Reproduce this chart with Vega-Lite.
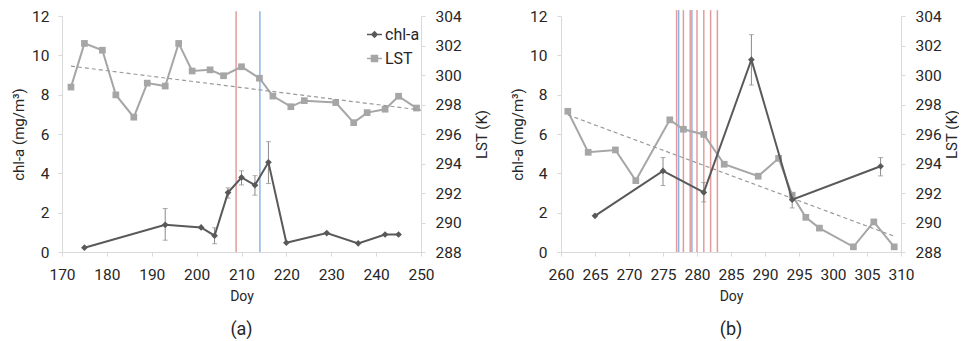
{
  "$schema": "https://vega.github.io/schema/vega-lite/v6.json",
  "background": "white",
  "padding": {"left": 11, "top": 9, "right": 0, "bottom": 0},
  "spacing": 140,
  "bounds": "flush",
  "config": {
    "view": {"stroke": null},
    "font": "Roboto, Liberation Sans, DejaVu Sans, sans-serif",
    "axis": {"domainColor": "#d9d9d9", "tickColor": "#d9d9d9", "tickSize": 4, "grid": false, "labelOverlap": false, "labelFlush": false, "tickCount": 20, "format": "d", "labelFont": "Roboto, Liberation Sans, DejaVu Sans, sans-serif", "labelFontSize": 15.5, "labelColor": "#262626", "titleFont": "Roboto, Liberation Sans, DejaVu Sans, sans-serif", "titleFontSize": 15, "titleFontWeight": "normal", "titleColor": "#262626"},
    "legend": {"labelFont": "Roboto, Liberation Sans, DejaVu Sans, sans-serif"},
    "title": {"font": "Roboto, Liberation Sans, DejaVu Sans, sans-serif", "fontSize": 18, "fontWeight": "normal", "color": "#262626"}
  },
  "resolve": {
    "scale": {"fill": "independent", "stroke": "independent", "shape": "independent", "color": "independent"},
    "legend": {"fill": "independent", "stroke": "independent", "shape": "independent", "color": "independent"}
  },
  "datasets": {
    "a_chl": [
      {"doy": 175, "chl": 0.22}, {"doy": 193, "chl": 1.38}, {"doy": 201, "chl": 1.25}, {"doy": 204, "chl": 0.83},
      {"doy": 207, "chl": 3.02}, {"doy": 210, "chl": 3.79}, {"doy": 213, "chl": 3.40}, {"doy": 216, "chl": 4.56},
      {"doy": 220, "chl": 0.47}, {"doy": 229, "chl": 0.96}, {"doy": 236, "chl": 0.44}, {"doy": 242, "chl": 0.89},
      {"doy": 245, "chl": 0.89}
    ],
    "a_err": [
      {"doy": 193, "lo": 0.60, "hi": 2.21}, {"doy": 204, "lo": 0.42, "hi": 1.23}, {"doy": 207, "lo": 2.74, "hi": 3.26},
      {"doy": 210, "lo": 3.41, "hi": 4.13}, {"doy": 213, "lo": 2.89, "hi": 3.88}, {"doy": 216, "lo": 3.48, "hi": 5.61}
    ],
    "a_lst": [
      {"doy": 172, "lst": 299.18}, {"doy": 175, "lst": 302.14}, {"doy": 179, "lst": 301.68}, {"doy": 182, "lst": 298.65},
      {"doy": 186, "lst": 297.14}, {"doy": 189, "lst": 299.45}, {"doy": 193, "lst": 299.25}, {"doy": 196, "lst": 302.14},
      {"doy": 199, "lst": 300.27}, {"doy": 203, "lst": 300.35}, {"doy": 206, "lst": 299.95}, {"doy": 210, "lst": 300.56},
      {"doy": 214, "lst": 299.78}, {"doy": 217, "lst": 298.57}, {"doy": 221, "lst": 297.85}, {"doy": 224, "lst": 298.26},
      {"doy": 231, "lst": 298.13}, {"doy": 235, "lst": 296.77}, {"doy": 238, "lst": 297.45}, {"doy": 242, "lst": 297.68},
      {"doy": 245, "lst": 298.56}, {"doy": 249, "lst": 297.76}
    ],
    "a_trend": [{"doy": 172, "lst": 300.6}, {"doy": 250, "lst": 297.62}],
    "a_events": [{"doy": 208.8, "type": "A"}, {"doy": 214.1, "type": "B"}],
    "b_chl": [
      {"doy": 265, "chl": 1.84}, {"doy": 275, "chl": 4.12}, {"doy": 281, "chl": 3.03},
      {"doy": 288, "chl": 9.78}, {"doy": 294, "chl": 2.66}, {"doy": 307, "chl": 4.36}
    ],
    "b_err": [
      {"doy": 275, "lo": 3.38, "hi": 4.80}, {"doy": 281, "lo": 2.55, "hi": 3.53}, {"doy": 288, "lo": 8.49, "hi": 11.05},
      {"doy": 294, "lo": 2.24, "hi": 2.95}, {"doy": 307, "lo": 3.87, "hi": 4.80}
    ],
    "b_lst": [
      {"doy": 261, "lst": 297.54}, {"doy": 264, "lst": 294.76}, {"doy": 268, "lst": 294.92}, {"doy": 271, "lst": 292.84},
      {"doy": 276, "lst": 296.96}, {"doy": 278, "lst": 296.32}, {"doy": 281, "lst": 295.97}, {"doy": 284, "lst": 293.95},
      {"doy": 289, "lst": 293.14}, {"doy": 292, "lst": 294.35}, {"doy": 294, "lst": 291.85}, {"doy": 296, "lst": 290.35},
      {"doy": 298, "lst": 289.62}, {"doy": 303, "lst": 288.35}, {"doy": 306, "lst": 290.04}, {"doy": 309, "lst": 288.35}
    ],
    "b_trend": [{"doy": 261, "lst": 297.3}, {"doy": 309, "lst": 289.07}],
    "b_events": [
      {"doy": 277, "type": "A"}, {"doy": 277.3, "type": "B"}, {"doy": 278, "type": "A"}, {"doy": 279, "type": "A"},
      {"doy": 279.25, "type": "B"}, {"doy": 280, "type": "A"}, {"doy": 281, "type": "A"}, {"doy": 282, "type": "A"},
      {"doy": 283, "type": "A"}
    ],
    "legend": [{"series": "chl-a"}, {"series": "LST"}]
  },
  "hconcat": [
    {
      "width": 359,
      "height": 236,
      "title": {"text": "(a)", "orient": "bottom", "frame": "group", "offset": 17, "fontSize": 18, "fontWeight": "normal", "color": "#262626"},
      "resolve": {"scale": {"y": "independent"}},
      "layer": [
        {
          "layer": [
            {
              "data": {"name": "a_events"},
              "mark": {"type": "rule", "strokeWidth": 1.5},
              "encoding": {
                "x": {"field": "doy", "type": "quantitative", "title": "Doy", "scale": {"domain": [170, 250], "nice": false}, "axis": {"values": [170, 180, 190, 200, 210, 220, 230, 240, 250], "format": "d", "tickCount": 20, "labelOverlap": false, "labelFlush": false, "labelPadding": 11, "titlePadding": 7, "labelFontSize": 15.5, "titleFontSize": 14, "titleFontWeight": "normal"}},
                "y": {"datum": 304.33, "type": "quantitative", "title": "LST (K)", "scale": {"domain": [288, 304], "nice": false}, "axis": {"orient": "right", "values": [288, 290, 292, 294, 296, 298, 300, 302, 304], "format": "d", "tickCount": 20, "labelOverlap": false, "labelFlush": false, "labelPadding": 10, "titleX": 60, "titleAngle": 270, "titleBaseline": "middle", "labelFontSize": 15.5, "titleFontSize": 15, "titleFontWeight": "normal"}},
                "y2": {"datum": 288},
                "color": {"field": "type", "type": "nominal", "scale": {"domain": ["A", "B"], "range": ["#e39c9c", "#8fb4e3"]}, "legend": null}
              }
            },
            {
              "data": {"name": "a_lst"},
              "mark": {"type": "line", "color": "#a6a6a6", "strokeWidth": 2},
              "encoding": {
                "x": {"field": "doy", "type": "quantitative", "title": "Doy"},
                "y": {"field": "lst", "type": "quantitative", "title": "LST (K)"}
              }
            },
            {
              "data": {"name": "a_lst"},
              "mark": {"type": "point", "shape": "square", "size": 45, "filled": true, "opacity": 1, "color": "#a6a6a6"},
              "encoding": {
                "x": {"field": "doy", "type": "quantitative", "title": "Doy"},
                "y": {"field": "lst", "type": "quantitative", "title": "LST (K)"}
              }
            },
            {
              "data": {"name": "a_trend"},
              "mark": {"type": "line", "color": "#9a9a9a", "strokeWidth": 1.2, "strokeDash": [4, 3]},
              "encoding": {
                "x": {"field": "doy", "type": "quantitative", "title": "Doy"},
                "y": {"field": "lst", "type": "quantitative", "title": "LST (K)"}
              }
            }
          ]
        },
        {
          "layer": [
            {
              "data": {"name": "a_err"},
              "mark": {"type": "errorbar", "ticks": {"size": 5}, "color": "#8a8a8a", "thickness": 1},
              "encoding": {
                "x": {"field": "doy", "type": "quantitative", "title": "Doy"},
                "y": {"field": "lo", "type": "quantitative", "title": "chl-a (mg/m³)", "scale": {"domain": [0, 12], "nice": false}, "axis": {"orient": "left", "values": [0, 2, 4, 6, 8, 10, 12], "format": "d", "tickCount": 20, "labelOverlap": false, "labelFlush": false, "labelPadding": 9, "titleX": -44, "titleBaseline": "middle", "labelFontSize": 15.5, "titleFontSize": 15, "titleFontWeight": "normal"}},
                "y2": {"field": "hi"}
              }
            },
            {
              "data": {"name": "a_chl"},
              "mark": {"type": "line", "color": "#595959", "strokeWidth": 2},
              "encoding": {
                "x": {"field": "doy", "type": "quantitative", "title": "Doy"},
                "y": {"field": "chl", "type": "quantitative", "title": "chl-a (mg/m³)"}
              }
            },
            {
              "data": {"name": "a_chl"},
              "mark": {"type": "point", "shape": "diamond", "size": 45, "filled": true, "opacity": 1, "color": "#595959"},
              "encoding": {
                "x": {"field": "doy", "type": "quantitative", "title": "Doy"},
                "y": {"field": "chl", "type": "quantitative", "title": "chl-a (mg/m³)"}
              }
            },
            {
              "data": {"name": "legend"},
              "mark": {"type": "point", "opacity": 0, "filled": true},
              "encoding": {
                "fill": {"field": "series", "type": "nominal", "scale": {"domain": ["chl-a", "LST"], "range": ["#595959", "#a6a6a6"]}, "legend": {"orient": "none", "legendX": 304, "legendY": 10, "title": null, "padding": 0, "labelFontSize": 16, "labelColor": "#262626", "labelOffset": 2, "symbolSize": 225, "symbolStrokeWidth": 1.5, "symbolOpacity": 1, "rowPadding": 7}},
                "stroke": {"field": "series", "type": "nominal", "scale": {"domain": ["chl-a", "LST"], "range": ["#595959", "#a6a6a6"]}, "legend": {"orient": "none", "legendX": 304, "legendY": 10, "title": null, "padding": 0, "labelFontSize": 16, "labelColor": "#262626", "labelOffset": 2, "symbolSize": 225, "symbolStrokeWidth": 1.5, "symbolOpacity": 1, "rowPadding": 7}},
                "shape": {"field": "series", "type": "nominal", "scale": {"domain": ["chl-a", "LST"], "range": ["M-1,0H1M0,-0.35L0.35,0L0,0.35L-0.35,0Z", "M-1,0H1M-0.4,-0.4H0.4V0.4H-0.4Z"]}, "legend": {"orient": "none", "legendX": 304, "legendY": 10, "title": null, "padding": 0, "labelFontSize": 16, "labelColor": "#262626", "labelOffset": 2, "symbolSize": 225, "symbolStrokeWidth": 1.5, "symbolOpacity": 1, "rowPadding": 7}}
              }
            }
          ]
        }
      ]
    },
    {
      "width": 340,
      "height": 236,
      "title": {"text": "(b)", "orient": "bottom", "frame": "group", "offset": 17, "fontSize": 18, "fontWeight": "normal", "color": "#262626"},
      "resolve": {"scale": {"y": "independent"}},
      "layer": [
        {
          "layer": [
            {
              "data": {"name": "b_events"},
              "mark": {"type": "rule", "strokeWidth": 1.5},
              "encoding": {
                "x": {"field": "doy", "type": "quantitative", "title": "Doy", "scale": {"domain": [260, 310], "nice": false}, "axis": {"values": [260, 265, 270, 275, 280, 285, 290, 295, 300, 305, 310], "format": "d", "tickCount": 20, "labelOverlap": false, "labelFlush": false, "labelPadding": 11, "titlePadding": 7, "labelFontSize": 15.5, "titleFontSize": 14, "titleFontWeight": "normal"}},
                "y": {"datum": 304.4, "type": "quantitative", "title": "LST (K)", "scale": {"domain": [288, 304], "nice": false}, "axis": {"orient": "right", "values": [288, 290, 292, 294, 296, 298, 300, 302, 304], "format": "d", "tickCount": 20, "labelOverlap": false, "labelFlush": false, "labelPadding": 10, "titleX": 50, "titleAngle": 270, "titleBaseline": "middle", "labelFontSize": 15.5, "titleFontSize": 15, "titleFontWeight": "normal"}},
                "y2": {"datum": 288},
                "color": {"field": "type", "type": "nominal", "scale": {"domain": ["A", "B"], "range": ["#e39c9c", "#8fb4e3"]}, "legend": null}
              }
            },
            {
              "data": {"name": "b_lst"},
              "mark": {"type": "line", "color": "#a6a6a6", "strokeWidth": 2},
              "encoding": {
                "x": {"field": "doy", "type": "quantitative", "title": "Doy"},
                "y": {"field": "lst", "type": "quantitative", "title": "LST (K)"}
              }
            },
            {
              "data": {"name": "b_lst"},
              "mark": {"type": "point", "shape": "square", "size": 45, "filled": true, "opacity": 1, "color": "#a6a6a6"},
              "encoding": {
                "x": {"field": "doy", "type": "quantitative", "title": "Doy"},
                "y": {"field": "lst", "type": "quantitative", "title": "LST (K)"}
              }
            },
            {
              "data": {"name": "b_trend"},
              "mark": {"type": "line", "color": "#9a9a9a", "strokeWidth": 1.2, "strokeDash": [4, 3]},
              "encoding": {
                "x": {"field": "doy", "type": "quantitative", "title": "Doy"},
                "y": {"field": "lst", "type": "quantitative", "title": "LST (K)"}
              }
            }
          ]
        },
        {
          "layer": [
            {
              "data": {"name": "b_err"},
              "mark": {"type": "errorbar", "ticks": {"size": 5}, "color": "#8a8a8a", "thickness": 1},
              "encoding": {
                "x": {"field": "doy", "type": "quantitative", "title": "Doy"},
                "y": {"field": "lo", "type": "quantitative", "title": "chl-a (mg/m³)", "scale": {"domain": [0, 12], "nice": false}, "axis": {"orient": "left", "values": [0, 2, 4, 6, 8, 10, 12], "format": "d", "tickCount": 20, "labelOverlap": false, "labelFlush": false, "labelPadding": 10, "titleX": -44, "titleBaseline": "middle", "labelFontSize": 15.5, "titleFontSize": 15, "titleFontWeight": "normal"}},
                "y2": {"field": "hi"}
              }
            },
            {
              "data": {"name": "b_chl"},
              "mark": {"type": "line", "color": "#595959", "strokeWidth": 2},
              "encoding": {
                "x": {"field": "doy", "type": "quantitative", "title": "Doy"},
                "y": {"field": "chl", "type": "quantitative", "title": "chl-a (mg/m³)"}
              }
            },
            {
              "data": {"name": "b_chl"},
              "mark": {"type": "point", "shape": "diamond", "size": 45, "filled": true, "opacity": 1, "color": "#595959"},
              "encoding": {
                "x": {"field": "doy", "type": "quantitative", "title": "Doy"},
                "y": {"field": "chl", "type": "quantitative", "title": "chl-a (mg/m³)"}
              }
            }
          ]
        }
      ]
    }
  ]
}
